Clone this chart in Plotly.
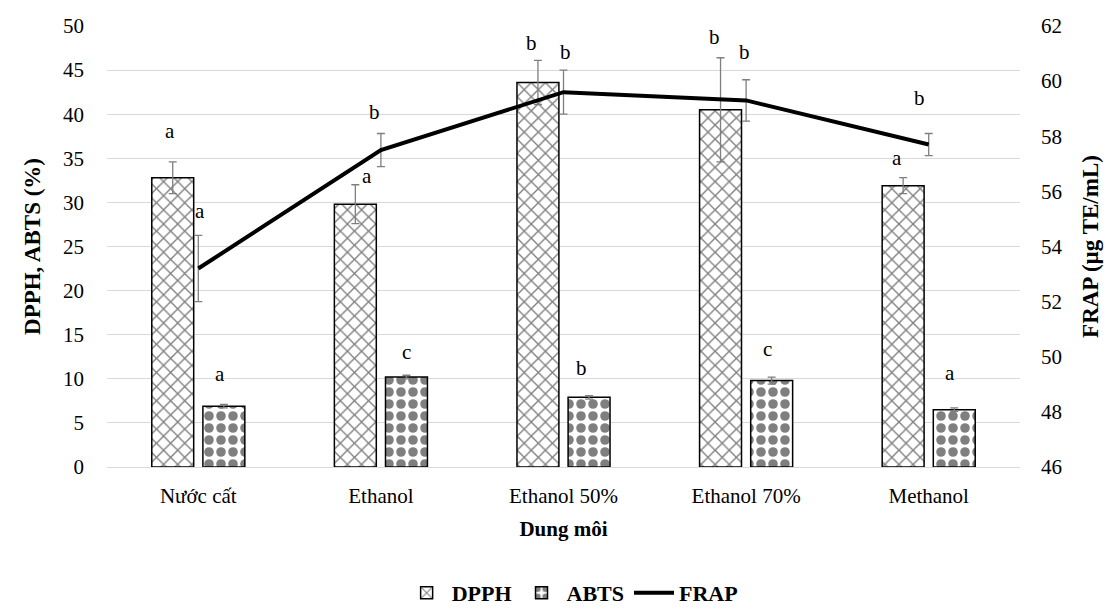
import plotly.graph_objects as go

# Solvents tested
solvents = ["Nước cất", "Ethanol", "Ethanol 50%", "Ethanol 70%", "Methanol"]

# Radical scavenging (%) and reducing power (µg TE/mL), mean ± SD
dpph = [32.8, 29.8, 43.6, 40.5, 31.9]
dpph_sd = [1.8, 2.2, 2.5, 5.9, 0.9]
abts = [6.9, 10.2, 7.9, 9.8, 6.5]
abts_sd = [0.2, 0.2, 0.2, 0.4, 0.2]
frap = [53.2, 57.5, 59.6, 59.3, 57.7]
frap_sd = [1.2, 0.6, 0.8, 0.75, 0.4]

# Significance letters
dpph_letters = ["a", "a", "b", "b", "a"]
abts_letters = ["a", "c", "b", "c", "a"]
frap_letters = ["a", "b", "b", "b", "b"]

# Pixel nudges for the letter labels (x, y)
dpph_nudge = [(-28, 31), (-14, 9), (-32, 17), (-32, 21), (-32, 20)]
abts_nudge = [(22, 30), (26, 23), (18, 28), (21, 28), (21, 35)]
frap_nudge = [(2, 24), (-6, 21), (2, 18), (-2, 28), (-9, 35)]

FONT = "Times New Roman"
ERR = dict(type="data", thickness=1.3, width=4, color="#7f7f7f")

fig = go.Figure()
fig.add_trace(go.Bar(
    name="<b>DPPH</b>", x=solvents, y=dpph,
    error_y=dict(array=dpph_sd, **ERR),
    marker=dict(color="white", line=dict(color="black", width=1.5),
                pattern=dict(shape="x", fgcolor="black", bgcolor="white",
                             size=10, solidity=0.25)),
))
fig.add_trace(go.Bar(
    name="<b>ABTS</b>", x=solvents, y=abts,
    error_y=dict(array=abts_sd, **ERR),
    marker=dict(color="white", line=dict(color="black", width=1.5),
                pattern=dict(shape=".", fgcolor="black", bgcolor="white",
                             size=12, solidity=0.5)),
))
fig.add_trace(go.Scatter(
    name="<b>FRAP</b>", x=solvents, y=frap, yaxis="y2", mode="lines",
    line=dict(color="black", width=4),
    error_y=dict(array=frap_sd, **ERR),
))

annotations = []
for vals, sds, letters, nudge, yref in [
    (dpph, dpph_sd, dpph_letters, dpph_nudge, "y"),
    (abts, abts_sd, abts_letters, abts_nudge, "y"),
    (frap, frap_sd, frap_letters, frap_nudge, "y2"),
]:
    for cat, v, s, t, (dx, dy) in zip(solvents, vals, sds, letters, nudge):
        annotations.append(dict(
            x=cat, y=v + s, xref="x", yref=yref, text=t, showarrow=False,
            xshift=dx, yshift=dy, font=dict(family=FONT, size=21, color="black"),
        ))

fig.update_layout(
    width=1120, height=609,
    margin=dict(l=107, r=100, t=26, b=142, autoexpand=False),
    paper_bgcolor="white", plot_bgcolor="white",
    barmode="group", bargap=0.44, bargroupgap=0.18,
    font=dict(family=FONT, size=21, color="black"),
    showlegend=True,
    legend=dict(orientation="h", x=0.51, xanchor="center", xref="paper",
                y=16 / 609, yref="container", yanchor="middle",
                font=dict(family=FONT, size=22, color="black"),
                itemwidth=40, traceorder="normal"),
    xaxis=dict(
        title=dict(text="<b>Dung môi</b>", font=dict(family=FONT, size=21), standoff=14),
        showgrid=False, showline=True, linecolor="#d9d9d9", linewidth=1,
        ticks="", tickfont=dict(family=FONT, size=21), ticklabelstandoff=10,
    ),
    yaxis=dict(
        title=dict(text="<b>DPPH, ABTS (%)</b>", font=dict(family=FONT, size=23), standoff=15),
        range=[0, 50], dtick=5, showgrid=True, gridcolor="#d9d9d9", gridwidth=1,
        zeroline=False, showline=False, ticks="", tickfont=dict(family=FONT, size=21),
        ticklabelstandoff=22,
    ),
    yaxis2=dict(
        title=dict(text="<b>FRAP (µg TE/mL)</b>", font=dict(family=FONT, size=23), standoff=20),
        range=[46, 62], dtick=2, overlaying="y", side="right", showgrid=False,
        zeroline=False, showline=False, ticks="", tickfont=dict(family=FONT, size=21),
        ticklabelstandoff=20,
    ),
    annotations=annotations,
)

fig.write_html("out.html")
